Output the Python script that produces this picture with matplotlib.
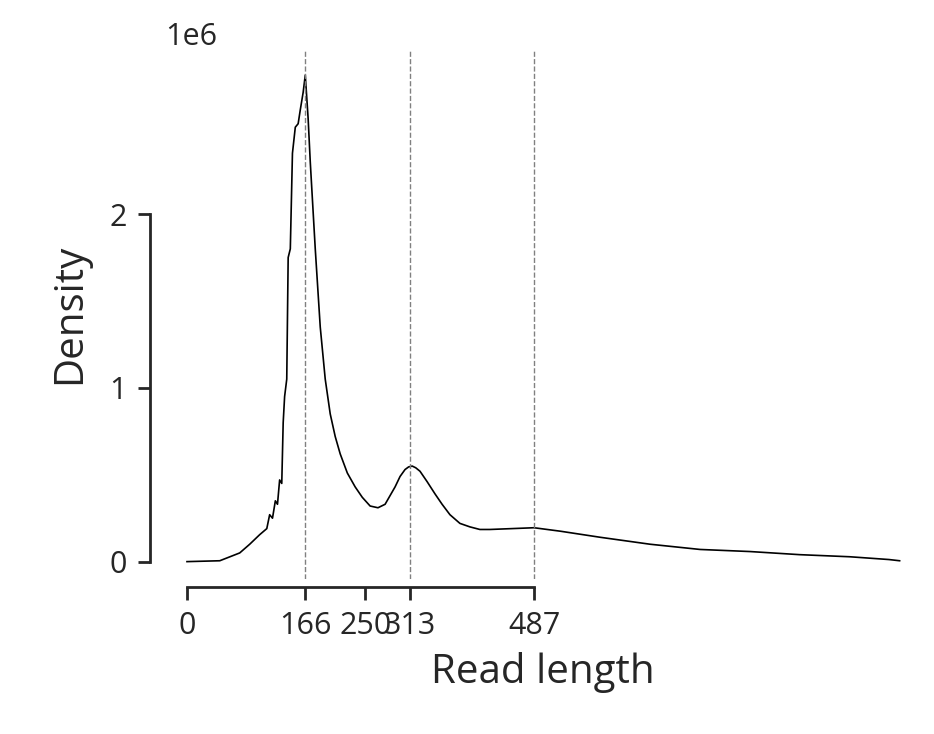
import matplotlib
matplotlib.use("Agg")
import matplotlib.pyplot as plt

# density curve
read_len = [0, 46, 74, 88, 102, 112, 116, 120, 124, 127, 130, 133, 135, 137, 140, 142, 145, 148,
            152, 156, 159, 163, 166, 170, 173, 180, 187, 194, 201, 208, 215, 225, 236, 246, 257,
            268, 278, 285, 292, 299, 306, 311, 316, 321, 327, 337, 348, 358, 369, 383, 397, 411,
            425, 456, 487, 524, 580, 650, 720, 790, 860, 930, 985, 1000]
density = [0.0, 0.005, 0.05, 0.1, 0.155, 0.19, 0.27, 0.25, 0.35, 0.33, 0.47, 0.45, 0.8, 0.95,
           1.05, 1.75, 1.8, 2.35, 2.5, 2.52, 2.6, 2.7, 2.8, 2.55, 2.3, 1.8, 1.35, 1.05, 0.85,
           0.72, 0.62, 0.51, 0.43, 0.37, 0.32, 0.31, 0.33, 0.38, 0.43, 0.49, 0.53, 0.545, 0.55,
           0.54, 0.52, 0.46, 0.39, 0.33, 0.27, 0.22, 0.2, 0.185, 0.185, 0.19, 0.195, 0.175,
           0.14, 0.1, 0.07, 0.058, 0.04, 0.028, 0.012, 0.005]
density = [d * 1e6 for d in density]

vlines = [166, 313, 487]
xticks = [0, 166, 250, 313, 487]
yticks = [0, 1e6, 2e6]

dark = "#262626"
plt.rcParams["font.family"] = ["Open Sans", "DejaVu Sans"]

fig = plt.figure(figsize=(9.34, 7.34), dpi=100)
ax = fig.add_axes([165.6 / 934, 1 - 579 / 734, (921 - 165.6) / 934, (579 - 49) / 734])

ax.plot(read_len, density, color="black", lw=1.2)
for v in vlines:
    ax.axvline(v, color="grey", ls="--", lw=1)

ax.set_xlim(-30, 1030)
ax.set_ylim(-0.1e6, 2.95e6)
ax.set_xticks(xticks)
ax.set_yticks(yticks)
ax.ticklabel_format(axis="y", style="sci", scilimits=(0, 0))
ax.yaxis.get_offset_text().set_fontsize(22)
ax.yaxis.get_offset_text().set_color(dark)

for s in ["top", "right"]:
    ax.spines[s].set_visible(False)
ax.spines["left"].set_position(("outward", 11))
ax.spines["bottom"].set_position(("outward", 6))
ax.spines["left"].set_bounds(0, 2e6)
ax.spines["bottom"].set_bounds(0, 487)
for s in ["left", "bottom"]:
    ax.spines[s].set_linewidth(2)
    ax.spines[s].set_color(dark)

ax.tick_params(labelsize=22, width=2, length=9, pad=8, colors=dark)
ax.set_xlabel("Read length", fontsize=29, color=dark, labelpad=8)
ax.set_ylabel("Density", fontsize=29, color=dark, labelpad=14)

fig.savefig("out.png", dpi=100)
